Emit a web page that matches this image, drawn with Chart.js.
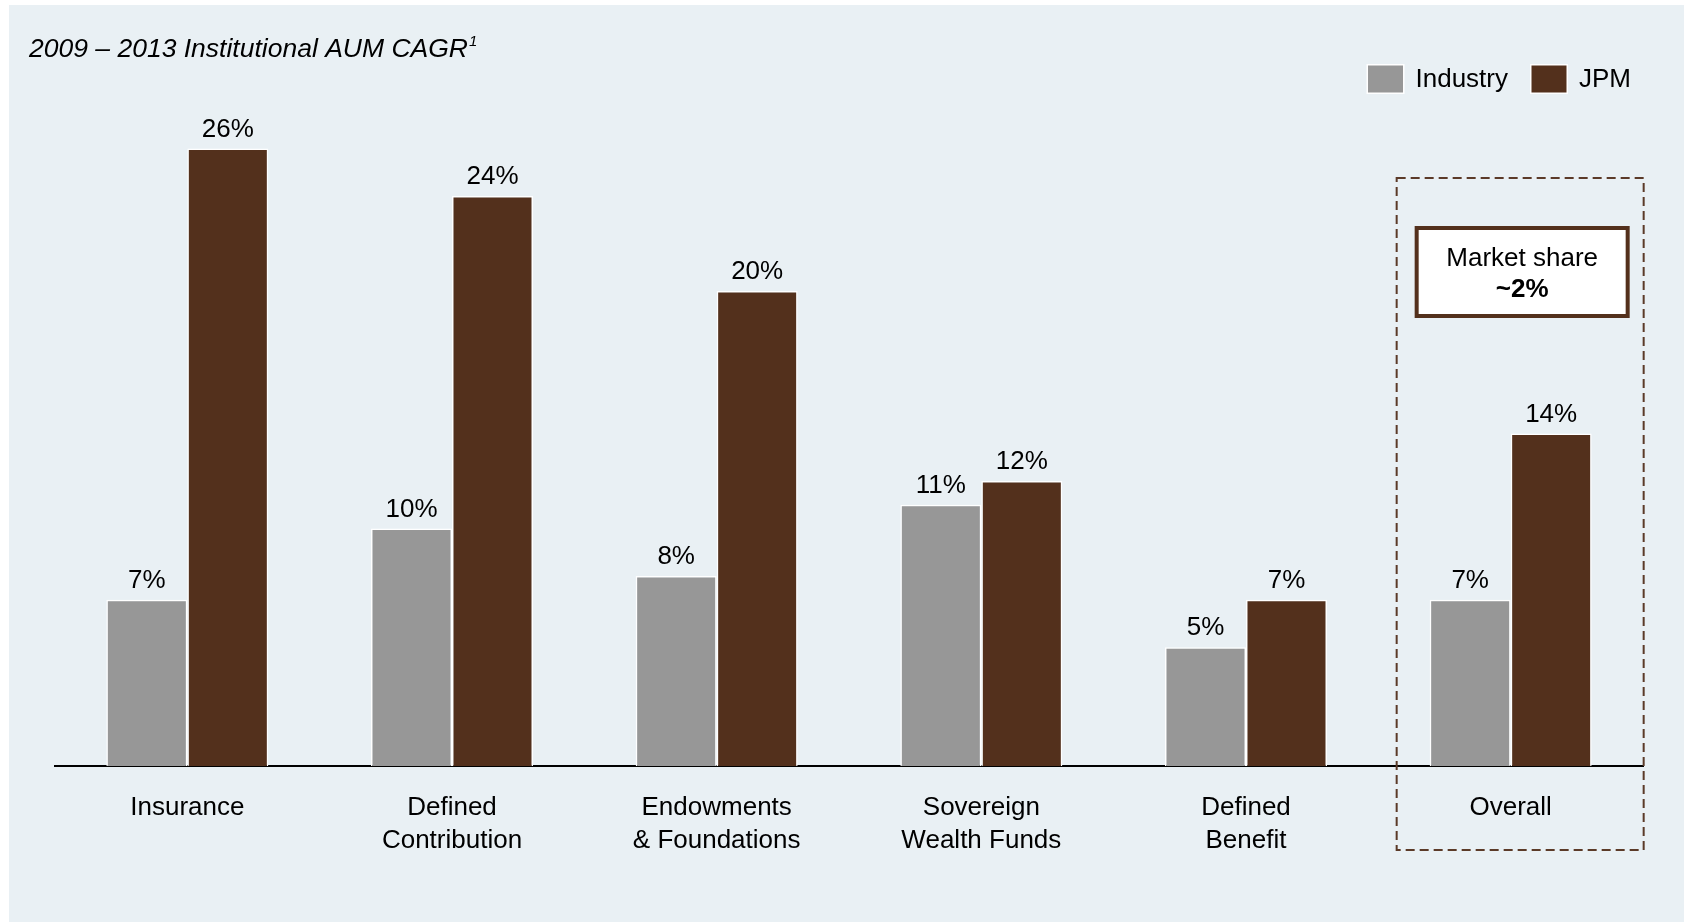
<!DOCTYPE html>
<html>
<head>
<meta charset="utf-8">
<script src="https://cdn.jsdelivr.net/npm/chart.js@4/dist/chart.umd.min.js"></script>
<style>
  html, body { margin: 0; padding: 0; background: #ffffff; }
  #wrap { width: 1687px; height: 923px; position: relative; }
  canvas { display: block; }
</style>
</head>
<body>
<div id="wrap"><canvas id="c" width="1687" height="923"></canvas></div>
<script>
const categories = [
  'Insurance',
  ['Defined', 'Contribution'],
  ['Endowments', '& Foundations'],
  ['Sovereign', 'Wealth Funds'],
  ['Defined', 'Benefit'],
  'Overall'
];
const industryValues = [7, 10, 8, 11, 5, 7];
const jpmValues = [26, 24, 20, 12, 7, 14];
const seriesNames = ['Industry', 'JPM'];
const chartTitle = '2009 \u2013 2013 Institutional AUM CAGR';
const titleNote = '1';
const calloutLines = ['Market share', '~2%'];
const highlightIndex = 5;

const FONT = '"Liberation Sans", Arial, Helvetica, sans-serif';
const GRAY = '#979797';
const BROWN = '#53301C';
const BG = '#E9F0F4';
const BOXLINE = '#5B3A28';

const decorPlugin = {
  id: 'decor',
  beforeDraw(chart) {
    const ctx = chart.ctx;
    ctx.save();
    ctx.fillStyle = '#ffffff';
    ctx.fillRect(0, 0, chart.width, chart.height);
    ctx.fillStyle = BG;
    ctx.fillRect(9, 5, chart.width - 12, chart.height - 6);
    ctx.restore();
  },
  afterDraw(chart) {
    const ctx = chart.ctx;
    const xs = chart.scales.x;
    const area = chart.chartArea;
    ctx.save();
    // Title
    ctx.fillStyle = '#000';
    ctx.textBaseline = 'middle';
    ctx.textAlign = 'left';
    ctx.font = 'italic 26.5px ' + FONT;
    ctx.fillText(chartTitle, 29, 50);
    const tw = ctx.measureText(chartTitle).width;
    ctx.font = 'italic 15px ' + FONT;
    ctx.fillText(titleNote, 29 + tw + 1, 42);

    // Legend
    ctx.font = '26px ' + FONT;
    const ds = chart.data.datasets;
    let right = area.right - 12;
    const items = [];
    for (let i = ds.length - 1; i >= 0; i--) {
      const w = ctx.measureText(ds[i].label).width;
      const textX = right - w;
      const boxX = textX - 11 - 38;
      items.push({ label: ds[i].label, color: ds[i].backgroundColor, textX, boxX });
      right = boxX - 22;
    }
    items.forEach(it => {
      ctx.fillStyle = '#ffffff';
      ctx.fillRect(it.boxX, 64, 38, 30);
      ctx.fillStyle = it.color;
      ctx.fillRect(it.boxX + 1.5, 65.5, 35, 27);
      ctx.fillStyle = '#000';
      ctx.textAlign = 'left';
      ctx.fillText(it.label, it.textX, 80);
    });

    // Value labels
    ctx.textAlign = 'center';
    ctx.textBaseline = 'middle';
    ctx.font = '26px ' + FONT;
    ctx.fillStyle = '#000';
    chart.data.datasets.forEach((d, di) => {
      const meta = chart.getDatasetMeta(di);
      meta.data.forEach((bar, i) => {
        ctx.fillText(d.data[i] + '%', bar.x, bar.y - 19);
      });
    });

    // Highlight dashed box around Overall
    const cx = xs.getPixelForValue(highlightIndex);
    ctx.setLineDash([9, 5]);
    ctx.lineWidth = 2;
    ctx.strokeStyle = BOXLINE;
    ctx.strokeRect(cx - 114, 178, 247, 672);
    ctx.setLineDash([]);

    // Callout box
    const bx = cx - 94, by = 228, bw = 211, bh = 88;
    ctx.fillStyle = '#ffffff';
    ctx.fillRect(bx, by, bw, bh);
    ctx.lineWidth = 4;
    ctx.strokeStyle = BROWN;
    ctx.strokeRect(bx, by, bw, bh);
    ctx.fillStyle = '#000';
    ctx.textAlign = 'center';
    ctx.font = '26px ' + FONT;
    ctx.fillText(calloutLines[0], bx + bw / 2, 259);
    ctx.font = 'bold 26px ' + FONT;
    ctx.fillText(calloutLines[1], bx + bw / 2, 290);
    ctx.restore();
  }
};

new Chart(document.getElementById('c'), {
  type: 'bar',
  data: {
    labels: categories,
    datasets: [
      { label: seriesNames[0], data: industryValues, backgroundColor: GRAY, borderColor: '#ffffff', borderWidth: 1.5 },
      { label: seriesNames[1], data: jpmValues, backgroundColor: BROWN, borderColor: '#ffffff', borderWidth: 1.5 }
    ]
  },
  options: {
    responsive: false,
    animation: false,
    devicePixelRatio: 1,
    layout: { padding: { top: 53.5, left: 55, right: 44, bottom: 0 } },
    categoryPercentage: 0.612,
    barPercentage: 1.0,
    plugins: {
      legend: { display: false },
      title: { display: false },
      tooltip: { enabled: false }
    },
    scales: {
      x: {
        grid: { display: false, drawTicks: false },
        border: { display: true, color: '#000', width: 2 },
        ticks: {
          color: '#000',
          font: { size: 26, family: FONT, lineHeight: 1.25 },
          padding: 26,
          maxRotation: 0,
          autoSkip: false
        },
        afterFit(scale) { scale.height = 157; }
      },
      y: {
        display: false,
        min: 0,
        max: 30
      }
    }
  },
  plugins: [decorPlugin]
});
</script>
</body>
</html>
